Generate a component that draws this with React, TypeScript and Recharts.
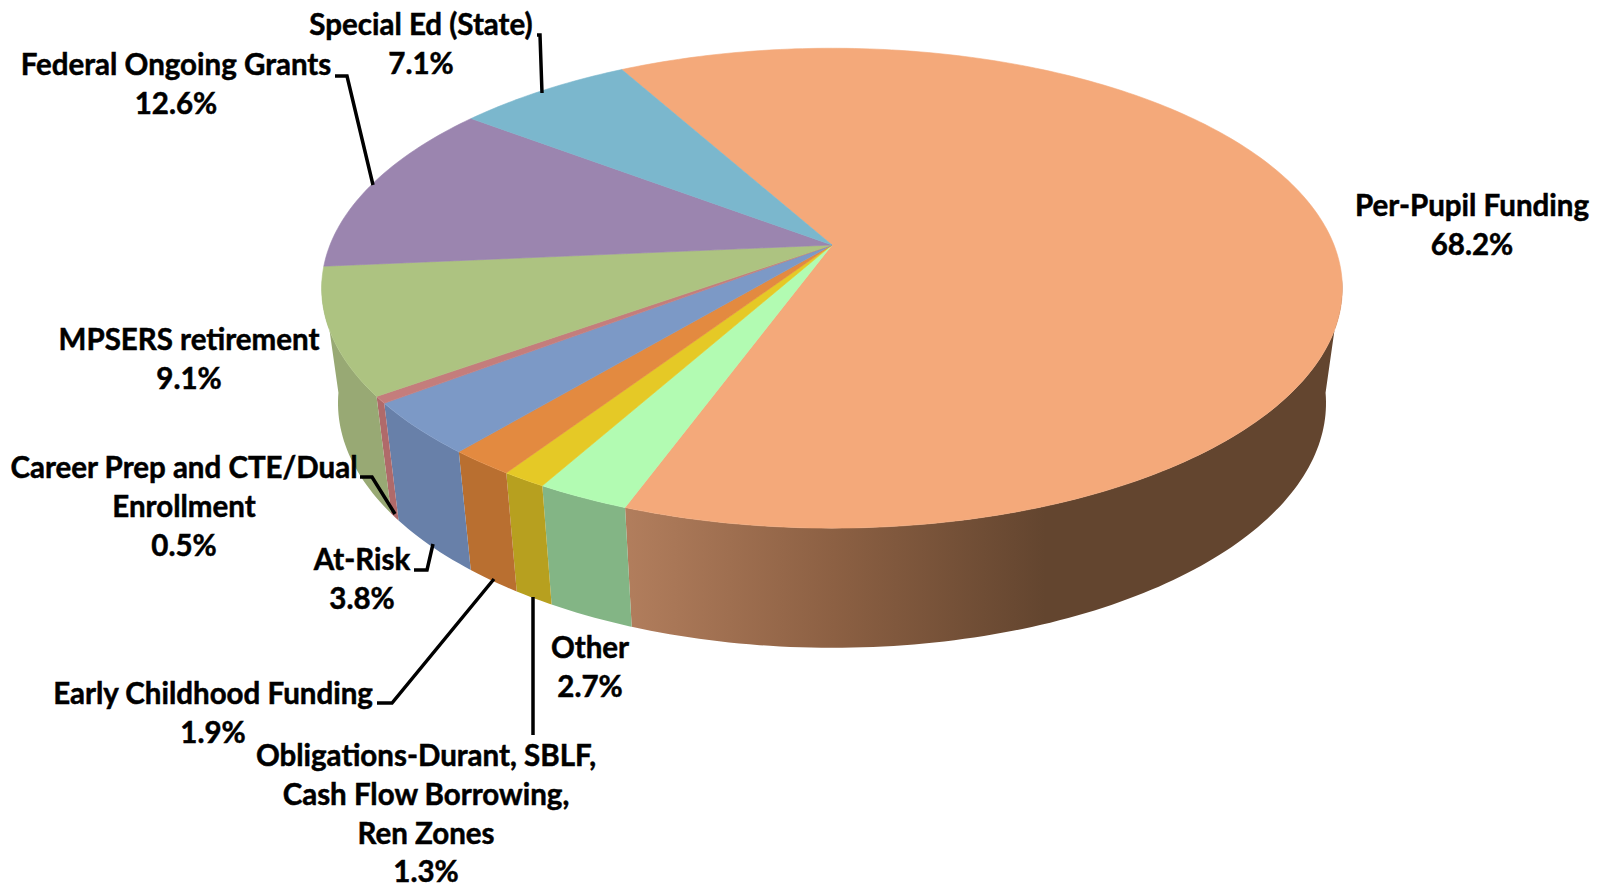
import React from 'react';
import { PieChart, Pie } from 'recharts';

const categories = [
  'Per-Pupil Funding',
  'Other',
  'Obligations-Durant, SBLF, Cash Flow Borrowing, Ren Zones',
  'Early Childhood Funding',
  'At-Risk',
  'Career Prep and CTE/Dual Enrollment',
  'MPSERS retirement',
  'Federal Ongoing Grants',
  'Special Ed (State)',
];
const shares = [68.2, 2.7, 1.3, 1.9, 3.8, 0.5, 9.1, 12.6, 7.1];
const topColors = ['#F4A97A', '#B2FBB2', '#E5C926', '#E38A40', '#7C99C6', '#C47D7C', '#ADC381', '#9B85AF', '#7BB7CD'];
const sideColors = ['url(#peachWall)', '#83B585', '#B7A01F', '#B96F30', '#6880A9', '#B06A6A', '#98A974', '#7C6A8C', '#628FA4'];

// label text lines, centre x and first baseline
const labelLines = [
  ['Per-Pupil Funding', '68.2%'],
  ['Other', '2.7%'],
  ['Obligations-Durant, SBLF,', 'Cash Flow Borrowing,', 'Ren Zones', '1.3%'],
  ['Early Childhood Funding', '1.9%'],
  ['At-Risk', '3.8%'],
  ['Career Prep and CTE/Dual', 'Enrollment', '0.5%'],
  ['MPSERS retirement', '9.1%'],
  ['Federal Ongoing Grants', '12.6%'],
  ['Special Ed (State)', '7.1%'],
];
const labelAnchors = [
  [1472, 216], [590, 658], [426, 766], [213, 704], [362, 570], [184, 478], [189, 350], [176, 75], [421, 35],
];
const leaderLines = [
  '',
  '',
  'M533 597 L533 735',
  'M377 703 L392 703 L494 579',
  'M414 570 L427 570 L433 544',
  'M360 477 L372 477 L395 514',
  '',
  'M335 76 L347 76 L373 185',
  'M537 35 L540 35 L542 93',
];

const topData = categories.map((name, i) => ({ name, value: shares[i], fill: topColors[i] }));
const sideData = categories.map((name, i) => ({ name, value: shares[i], fill: sideColors[i] }));

const ASPECT = 0.4625; // ellipse height to width
const TILT = 0.18; // perspective, the far side of the disc is smaller
const DEPTH = 114;
const BOTTOM_SCALE_X = 0.968;
const BOTTOM_SCALE_Y = 1.02;
const WALL_FROM = -172;
const WALL_TO = -8;

// disc angle to a point on the tilted rim, relative to the apex
function rim(angle: number, a: number) {
  const t = (angle * Math.PI) / 180;
  const w = 1 + TILT * Math.sin(t);
  return { x: (a * Math.cos(t)) / w, y: (-a * ASPECT * Math.sin(t)) / w };
}

function angleSteps(from: number, to: number) {
  const out: number[] = [];
  for (let t = from; t < to; t += 1) out.push(t);
  out.push(to);
  return out;
}

function TopSector(props: any) {
  const { cx, cy, outerRadius, startAngle, endAngle, fill } = props;
  const pts = angleSteps(endAngle, startAngle).map((t) => {
    const p = rim(t, outerRadius);
    return `${cx + p.x} ${cy + p.y}`;
  });
  return <path d={`M${cx} ${cy} L${pts.join(' L')} Z`} fill={fill} stroke={fill} strokeWidth={0.6} />;
}

function WallSector(props: any) {
  const { cx, cy, outerRadius, startAngle, endAngle, fill } = props;
  const from = Math.max(endAngle, WALL_FROM);
  const to = Math.min(startAngle, WALL_TO);
  if (from >= to) return null;
  const steps = angleSteps(from, to);
  const upper = steps.map((t) => {
    const p = rim(t, outerRadius);
    return `${cx + p.x} ${cy + p.y}`;
  });
  const lower = steps
    .slice()
    .reverse()
    .map((t) => {
      const p = rim(t, outerRadius);
      return `${cx + p.x * BOTTOM_SCALE_X} ${cy + p.y * BOTTOM_SCALE_Y + DEPTH}`;
    });
  return (
    <g>
      <defs>
        <linearGradient id="peachWall" gradientUnits="userSpaceOnUse" x1="624" y1="0" x2="1045" y2="0">
          <stop offset="0%" stopColor="#B27E5D" />
          <stop offset="50%" stopColor="#8C6043" />
          <stop offset="100%" stopColor="#63452F" />
        </linearGradient>
      </defs>
      <path d={`M${upper.join(' L')} L${lower.join(' L')} Z`} fill={fill} stroke="none" />
    </g>
  );
}

function SliceLabel(props: any) {
  const { index } = props;
  const [x, y] = labelAnchors[index];
  return (
    <g>
      {leaderLines[index] && <path d={leaderLines[index]} fill="none" stroke="#000" strokeWidth={3.5} />}
      <text
        textAnchor="middle"
        fontFamily="Lato"
        fontWeight={700}
        fontSize={29.5}
        fill="#000"
        stroke="#000"
        strokeWidth={0.5}
      >
        {labelLines[index].map((line, i) => (
          <tspan key={i} x={x} y={y + i * 38.8}>
            {line}
          </tspan>
        ))}
      </text>
    </g>
  );
}

export default function App() {
  return (
    <div style={{ position: 'absolute', left: 0, top: 0, width: 1599, height: 888, background: '#fff' }}>
      <PieChart width={1599} height={888} margin={{ top: 0, right: 0, bottom: 0, left: 0 }}>
        <Pie
          data={sideData}
          dataKey="value"
          nameKey="name"
          cx={832}
          cy={245}
          innerRadius={0}
          outerRadius={502}
          startAngle={119}
          endAngle={-241}
          shape={WallSector}
          isAnimationActive={false}
        />
        <Pie
          data={topData}
          dataKey="value"
          nameKey="name"
          cx={832}
          cy={245}
          innerRadius={0}
          outerRadius={502}
          startAngle={119}
          endAngle={-241}
          shape={TopSector}
          label={SliceLabel}
          labelLine={false}
          isAnimationActive={false}
        />
      </PieChart>
    </div>
  );
}
